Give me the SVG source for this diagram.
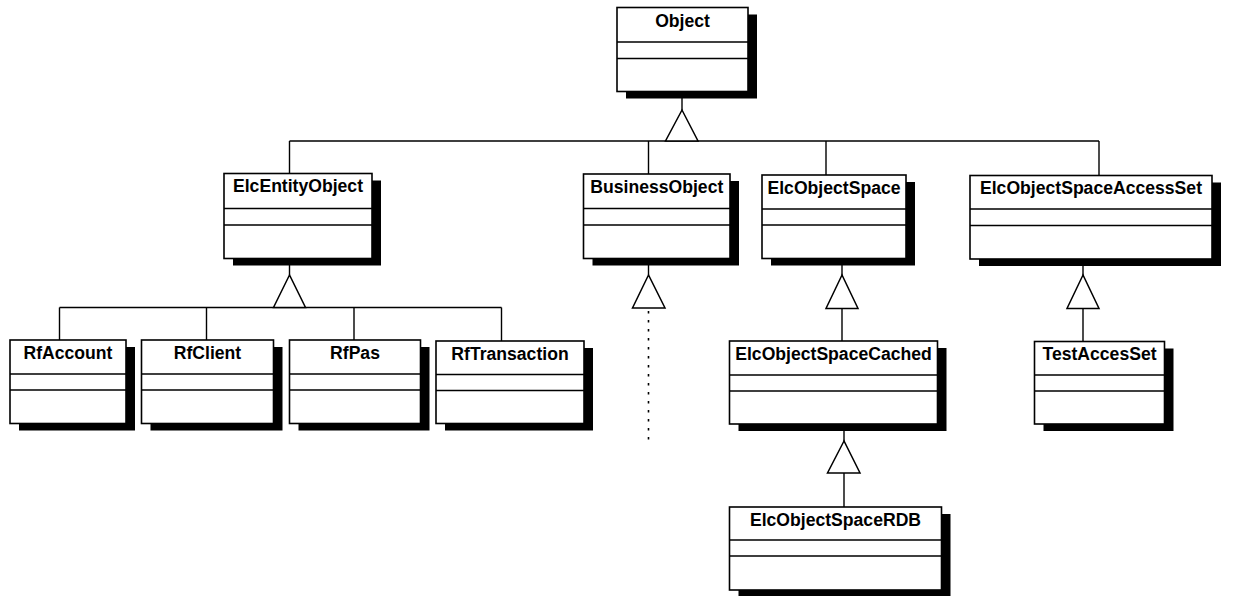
<svg xmlns="http://www.w3.org/2000/svg" width="1233" height="596" viewBox="0 0 1233 596">
<style>
.sh{fill:#000;stroke:none}
.bx{fill:#fff;stroke:#000;stroke-width:1.6}
.dv{stroke:#000;stroke-width:1.4;fill:none}
.t{font-family:"Liberation Sans",Arial,sans-serif;font-weight:bold;font-size:17.6px;text-anchor:middle;fill:#000}
.ln{stroke:#000;stroke-width:1.4;fill:none}
.tri{fill:#fff;stroke:#000;stroke-width:1.5;stroke-linejoin:miter}
.dot{stroke:#000;stroke-width:1.6;fill:none;stroke-dasharray:2.5 6.5}
</style>
<rect width="1233" height="596" fill="#fff"/>
<g id="connectors">
<path class="ln" d="M682 98V110"/>
<path class="ln" d="M289.5 141H1099M289.5 141V173.5M648.5 141V174M826 141V175M1099 141V175.5"/>
<path class="ln" d="M289.5 265V275"/>
<path class="ln" d="M59.5 307.5H501.5M59.5 307.5V340M206.5 307.5V340M354 307.5V340M501.5 307.5V341"/>
<path class="ln" d="M648.5 265V275"/>
<path class="dot" d="M648.5 311V440"/>
<path class="ln" d="M842 265V275M842 308.5V341"/>
<path class="ln" d="M1083 266V275M1083 308.5V341.5"/>
<path class="ln" d="M844 431V441M844 473V507"/>
<polygon class="tri" points="682,110 665.5,141 698,141"/>
<polygon class="tri" points="289.5,275 273.5,307.5 305.5,307.5"/>
<polygon class="tri" points="648.5,275 632.5,308 665,308"/>
<polygon class="tri" points="842,275 826,308.5 858,308.5"/>
<polygon class="tri" points="1083,275 1067,308.5 1099,308.5"/>
<polygon class="tri" points="844,441 827.5,473 860,473"/>
</g>
<g id="Object">
<rect class="sh" x="626" y="14.5" width="131" height="84"/>
<rect class="bx" x="617" y="7.5" width="131" height="84"/>
<path class="dv" d="M617 42H748M617 58.5H748"/>
<text class="t" x="682.5" y="26.5">Object</text>
</g>
<g id="ElcEntityObject">
<rect class="sh" x="233" y="180.5" width="148" height="85"/>
<rect class="bx" x="224" y="173.5" width="148" height="85"/>
<path class="dv" d="M224 208.5H372M224 225H372"/>
<text class="t" x="298" y="192">ElcEntityObject</text>
</g>
<g id="BusinessObject">
<rect class="sh" x="592.5" y="181" width="146.5" height="84.5"/>
<rect class="bx" x="583.5" y="174" width="146.5" height="84.5"/>
<path class="dv" d="M583.5 208.5H730M583.5 225H730"/>
<text class="t" x="656.8" y="192.5">BusinessObject</text>
</g>
<g id="ElcObjectSpace">
<rect class="sh" x="771" y="182" width="144" height="83.5"/>
<rect class="bx" x="762" y="175" width="144" height="83.5"/>
<path class="dv" d="M762 209H906M762 225H906"/>
<text class="t" x="834" y="193.5">ElcObjectSpace</text>
</g>
<g id="ElcObjectSpaceAccessSet">
<rect class="sh" x="979" y="182.5" width="242" height="83.5"/>
<rect class="bx" x="970" y="175.5" width="242" height="83.5"/>
<path class="dv" d="M970 209H1212M970 225.5H1212"/>
<text class="t" x="1091" y="194">ElcObjectSpaceAccessSet</text>
</g>
<g id="RfAccount">
<rect class="sh" x="19" y="347" width="116" height="83.5"/>
<rect class="bx" x="10" y="340" width="116" height="83.5"/>
<path class="dv" d="M10 374H126M10 390H126"/>
<text class="t" x="68" y="358.5">RfAccount</text>
</g>
<g id="RfClient">
<rect class="sh" x="150.5" y="347" width="132" height="83.5"/>
<rect class="bx" x="141.5" y="340" width="132" height="83.5"/>
<path class="dv" d="M141.5 374H273.5M141.5 390H273.5"/>
<text class="t" x="207.5" y="358.5">RfClient</text>
</g>
<g id="RfPas">
<rect class="sh" x="298.5" y="347" width="131" height="83.5"/>
<rect class="bx" x="289.5" y="340" width="131" height="83.5"/>
<path class="dv" d="M289.5 374H420.5M289.5 390H420.5"/>
<text class="t" x="355" y="358.5">RfPas</text>
</g>
<g id="RfTransaction">
<rect class="sh" x="445" y="348" width="148" height="82.5"/>
<rect class="bx" x="436" y="341" width="148" height="82.5"/>
<path class="dv" d="M436 374.5H584M436 390.5H584"/>
<text class="t" x="510" y="359.5">RfTransaction</text>
</g>
<g id="ElcObjectSpaceCached">
<rect class="sh" x="738.5" y="348" width="208" height="83"/>
<rect class="bx" x="729.5" y="341" width="208" height="83"/>
<path class="dv" d="M729.5 375H937.5M729.5 391H937.5"/>
<text class="t" x="833.5" y="359.5">ElcObjectSpaceCached</text>
</g>
<g id="TestAccesSet">
<rect class="sh" x="1043.5" y="348.5" width="130" height="82.5"/>
<rect class="bx" x="1034.5" y="341.5" width="130" height="82.5"/>
<path class="dv" d="M1034.5 375H1164.5M1034.5 391H1164.5"/>
<text class="t" x="1099.5" y="360">TestAccesSet</text>
</g>
<g id="ElcObjectSpaceRDB">
<rect class="sh" x="738.5" y="514" width="212" height="83"/>
<rect class="bx" x="729.5" y="507" width="212" height="83"/>
<path class="dv" d="M729.5 540H941.5M729.5 556H941.5"/>
<text class="t" x="835.5" y="525.5">ElcObjectSpaceRDB</text>
</g>
</svg>
